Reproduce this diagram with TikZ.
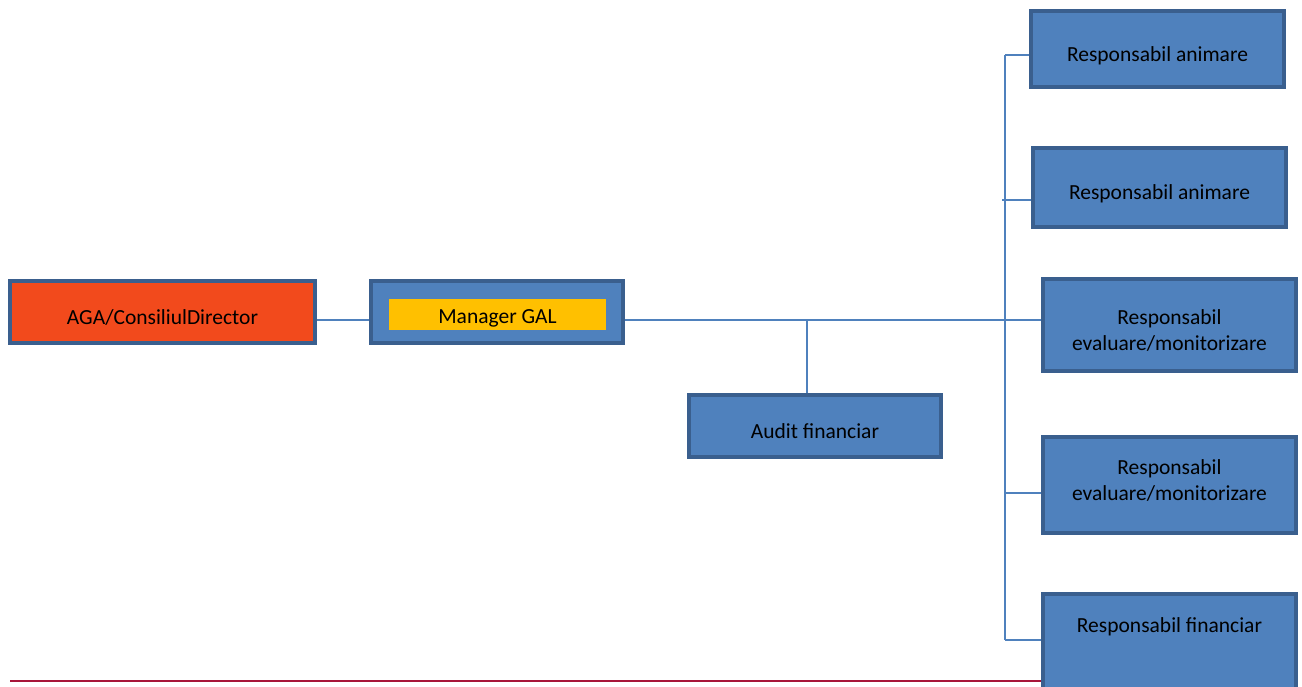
\documentclass[tikz,border=0pt]{standalone}
\usepackage{fontspec}
\setmainfont{Carlito}
\definecolor{bfill}{HTML}{4F81BD}
\definecolor{bedge}{HTML}{3A5F8E}
\definecolor{orng}{HTML}{F24A1C}
\definecolor{yel}{HTML}{FFC000}
\definecolor{dred}{HTML}{A8163A}
\begin{document}
\begin{tikzpicture}[x=1pt,y=-1pt,
  box/.style={draw=bedge,line width=4pt,fill=bfill,rectangle,inner sep=0pt},
  txt/.style={inner sep=0pt,align=center,font=\fontsize{21.5}{26}\selectfont},
  conn/.style={draw=bfill,line width=2pt}]
\useasboundingbox (0,0) rectangle (1302,686);
% boxes: outer extents in px; min size = outer - 4
\node[box,fill=orng,minimum width=305,minimum height=62] (aga) at (162.5,312) {};
\node[box,minimum width=252,minimum height=62] (mgr) at (497,312) {};
\node[fill=yel,minimum width=217,minimum height=31,inner sep=0pt] (mgrin) at (497.5,314.5) {};
\node[box,minimum width=252,minimum height=62] (aud) at (815,426) {};
\node[box,minimum width=253,minimum height=76] (r1) at (1157.5,49) {};
\node[box,minimum width=253,minimum height=79] (r2) at (1159.5,187.5) {};
\node[box,minimum width=253,minimum height=92] (r3) at (1169.5,325) {};
\node[box,minimum width=253,minimum height=96] (r4) at (1169.5,485) {};
\node[box,minimum width=253,minimum height=120] (r5) at (1169.5,654) {};
% texts
\node[txt] (agat) at ([yshift=-5.5pt]aga.center) {AGA/ConsiliulDirector};
\node[txt] (mgrt) at ([yshift=-4pt]mgrin.center) {Manager GAL};
\node[txt] (audt) at ([yshift=-5pt]aud.center) {Audit financiar};
\node[txt] (r1t) at ([yshift=-7pt]r1.center) {Responsabil animare};
\node[txt] (r2t) at ([yshift=-6pt]r2.center) {Responsabil animare};
\node[txt] (r3t) at ([yshift=-5.5pt]r3.center) {Responsabil\\evaluare/monitorizare};
\node[txt] (r4t) at ([yshift=4.5pt]r4.center) {Responsabil\\evaluare/monitorizare};
\node[txt] (r5t) at (1169.5,626.5) {Responsabil financiar};
% junction coordinates
\coordinate (lvl) at (0,320);
\coordinate (jx) at (807,320);
\coordinate (t1) at (1005,55);
\coordinate (t2) at (1002,200);
\coordinate (t4) at (1005,493);
\coordinate (t5) at (1005,640);
% connectors
\draw[conn] (aga.east |- lvl) -- (mgr.west |- lvl);
\draw[conn] (mgr.east |- lvl) -- (r3.west |- lvl);
\draw[conn] (jx) -- (aud.north -| jx);
\draw[conn] (t1) -- (t5);
\draw[conn] (t1) -- (r1.west |- t1);
\draw[conn] (t2) -- (r2.west |- t2);
\draw[conn] (t4) -- (r4.west |- t4);
\draw[conn] (t5) -- (r5.west |- t5);
% bottom rule
\coordinate (bl) at (10,681);
\draw[dred,line width=2pt] (bl) -- (r5.west |- bl);
\end{tikzpicture}
\end{document}
